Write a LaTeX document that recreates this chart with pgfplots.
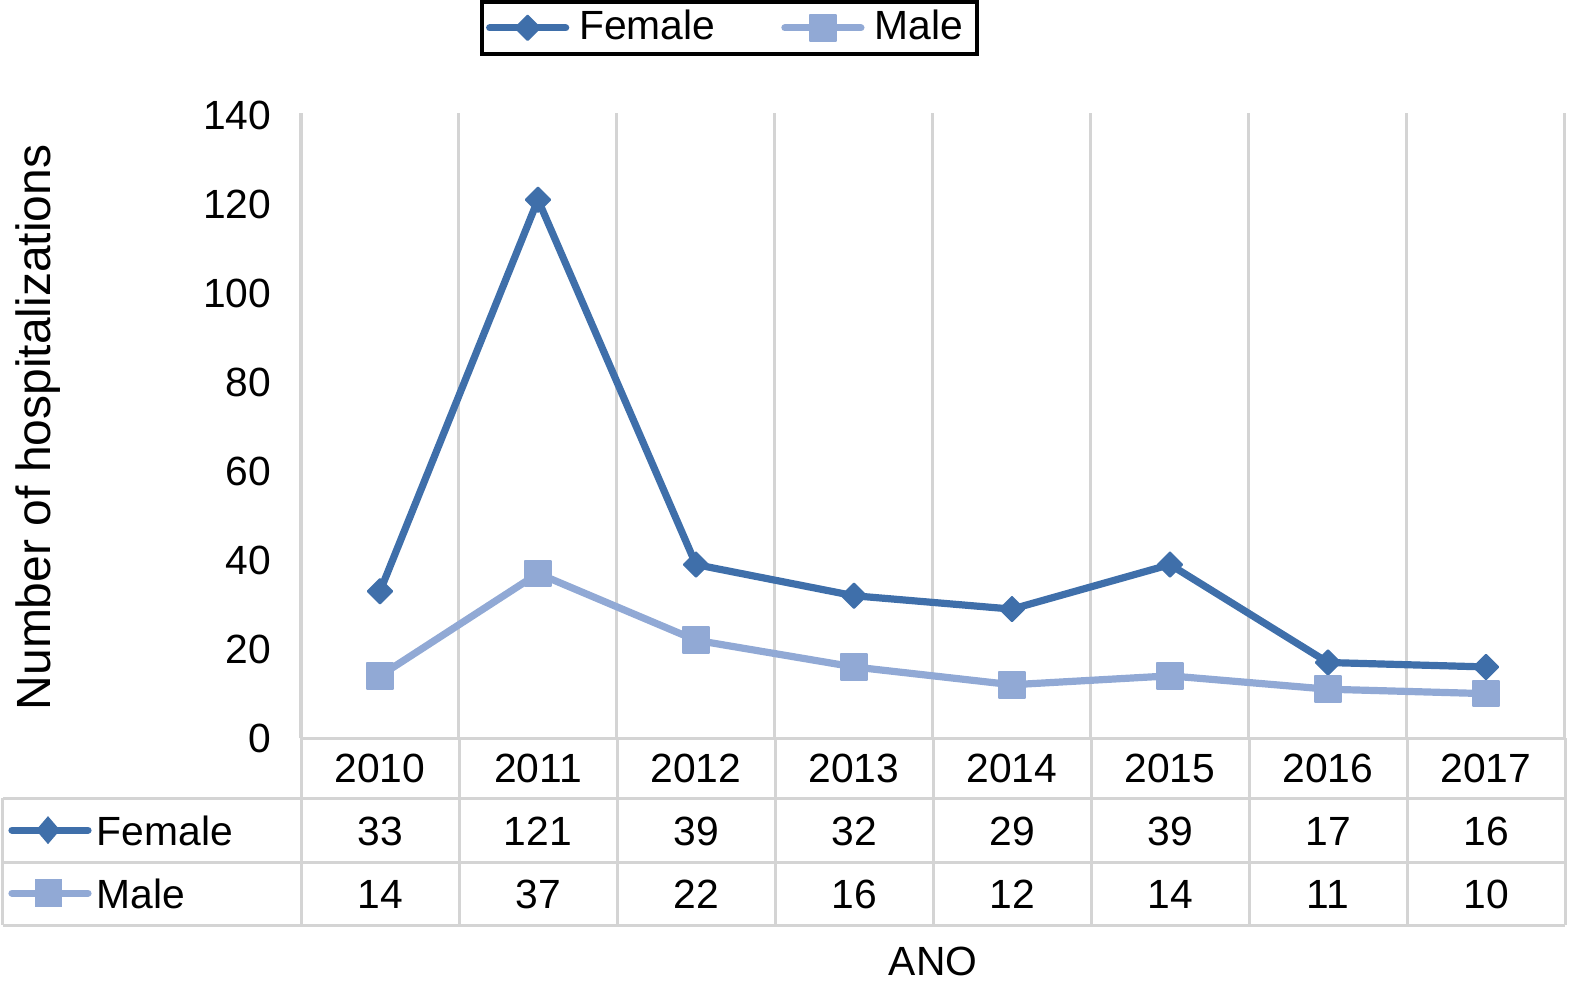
\documentclass[border=0pt]{standalone}
\usepackage{pgfplots}
\pgfplotsset{compat=1.18}
\usepackage{fontspec}
\setmainfont{Liberation Sans}
\definecolor{fem}{HTML}{3F6FAA}
\definecolor{mal}{HTML}{91A9D5}
\definecolor{gridc}{HTML}{D4D4D4}
\begin{document}
\fontsize{10.2}{12}\selectfont
\begin{tikzpicture}
\begin{axis}[
  name=ax, scale only axis, width=316pt, height=156.25pt,
  xmin=-0.5, xmax=7.5, ymin=0, ymax=140.45,
  xtick={0,1,2,3,4,5,6,7},
  xticklabels={2010,2011,2012,2013,2014,2015,2016,2017},
  minor xtick={-0.5,0.5,1.5,2.5,3.5,4.5,5.5,6.5,7.5},
  xminorgrids, minor grid style={gridc, line width=0.75pt},
  ytick={0,20,...,140},
  axis line style={draw=none}, major tick length=0pt, minor tick length=0pt,
  tick style={draw=none},
  /pgf/number format/assume math mode=true,
  tick label style={font=\fontsize{10.2}{12}\selectfont},
  xticklabel style={anchor=base, yshift=-11pt, inner sep=0pt},
  yticklabel style={anchor=east, xshift=-7.25pt, inner sep=0pt},
  clip=false,
  xlabel={ANO}, ylabel={Number of hospitalizations},
  every axis x label/.style={at={(axis description cs:0.5,0)}, anchor=base, yshift=-59.25pt, font=\fontsize{10.2}{12}\selectfont},
  every axis y label/.style={at={(axis description cs:-0.208,0.497)}, rotate=90, anchor=center, font=\fontsize{12}{14}\selectfont},
  legend columns=2,
  legend style={at={(rel axis cs:0.339,1.181)}, anchor=north, draw=black, line width=1pt,
    font=\fontsize{10.2}{12}\selectfont, inner xsep=1pt, inner ysep=1pt,
    nodes={inner xsep=2.5pt, inner ysep=1pt},
    /tikz/every even column/.append style={column sep=14pt}},
  legend image code/.code={\draw[mark repeat=2,mark phase=2,line cap=round,#1] plot coordinates {(0pt,0pt) (9.5pt,0pt) (19pt,0pt)};},
]
\addplot[fem, line width=1.8pt, line join=round, line cap=round, mark=square*, mark size=2.15pt, mark options={solid, fill=fem, draw=fem, line width=0.5pt, rotate=45}]
  coordinates {(0,33) (1,121) (2,39) (3,32) (4,29) (5,39) (6,17) (7,16)};
\addlegendentry{Female}
\addplot[mal, line width=1.8pt, line join=round, line cap=round, mark=square*, mark size=3.2pt, mark options={solid, fill=mal, draw=mal, line width=0.5pt}]
  coordinates {(0,14) (1,37) (2,22) (3,16) (4,12) (5,14) (6,11) (7,10)};
\addlegendentry{Male}
\end{axis}
\begin{scope}[shift={(ax.south west)}]
\begin{scope}[x=0.25pt, y=-0.25pt, shift={(-301,-738)}]
  \path (0,0) rectangle (1569,984);
  \begin{scope}[gridc, line width=0.75pt]
    \draw (301,738) -- (1565,738);
    \foreach \x in {301,459,617,775,933,1091,1249,1407,1565} \draw (\x,738) -- (\x,925);
    \foreach \y in {798,862,925} \draw (3,\y) -- (1565,\y);
    \draw (3,798) -- (3,925);
  \end{scope}
  \foreach \v [count=\i from 0] in {33,121,39,32,29,39,17,16}
    \node[anchor=base, inner sep=0pt] at (380+158*\i,845) {\v};
  \foreach \v [count=\i from 0] in {14,37,22,16,12,14,11,10}
    \node[anchor=base, inner sep=0pt] at (380+158*\i,908) {\v};
  \draw[fem, line width=1.8pt, line cap=round] (12,830) -- (88,830);
  \fill[fem] (48,816) -- (60,830) -- (48,844) -- (36,830) -- cycle;
  \draw[mal, line width=1.8pt, line cap=round] (12,893) -- (88,893);
  \fill[mal] (35,879) rectangle (62,907);
  \node[anchor=base west, inner sep=0pt] at (96,845) {Female};
  \node[anchor=base west, inner sep=0pt] at (96,908) {Male};
\end{scope}
\end{scope}
\end{tikzpicture}
\end{document}
